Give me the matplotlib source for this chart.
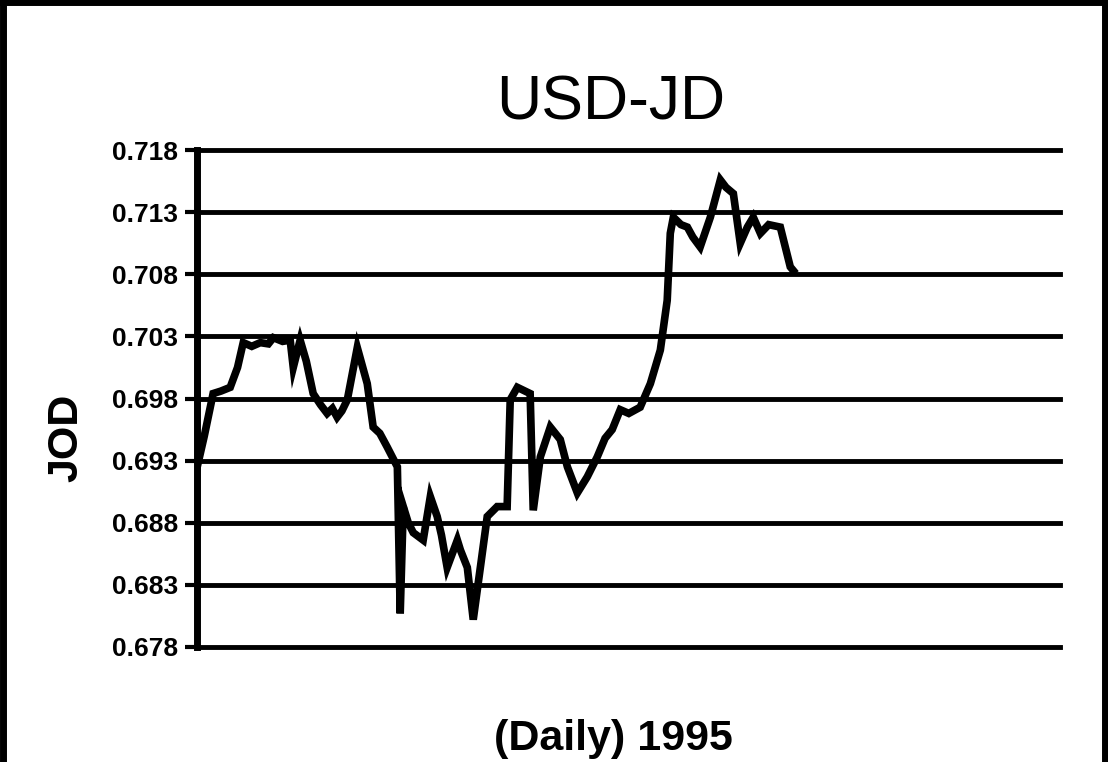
import numpy as np
import matplotlib.pyplot as plt
from matplotlib.lines import Line2D

plt.rcParams['font.family'] = ['Liberation Sans', 'DejaVu Sans']

# day of year and USD-JD rate
dias = [1, 4, 7.7, 11, 14.9, 18, 20.4, 24, 27.6, 31, 33.1, 37, 40.2, 41.5, 44.4,
        47, 49.9, 53, 55.8, 58, 60.0, 62, 64.3, 68.5, 72.7, 75.2, 78, 81.1, 85.4,
        86.6, 87.9, 90, 92.1, 96.3, 99.3, 102.2, 104, 106.4, 110.7, 112, 114.9,
        117.4, 120.4, 123.3, 127.5, 131.7, 133.0, 136.0, 141.4, 142.7, 145.7,
        149.9, 154.1, 157.1, 161.3, 165.5, 169.7, 173, 176, 179.4, 183, 187.8,
        192.1, 196.3, 199.2, 200.5, 201.8, 205, 207.7, 210, 213.1, 217.4, 221.6,
        224, 227.1, 230.0, 233, 235.5, 238.5, 242, 246.9, 251.1, 252.4]
tasa = [0.6925, 0.6950, 0.6984, 0.6986, 0.6989, 0.7005, 0.7025, 0.7022, 0.7025,
        0.7024, 0.7029, 0.7026, 0.7027, 0.7005, 0.7027, 0.7010, 0.6984, 0.6975,
        0.6968, 0.6972, 0.6965, 0.6970, 0.6979, 0.7021, 0.6992, 0.6957, 0.6952,
        0.6941, 0.6925, 0.6807, 0.6893, 0.6880, 0.6872, 0.6866, 0.6901, 0.6885,
        0.6870, 0.6844, 0.6866, 0.6858, 0.6844, 0.6802, 0.6844, 0.6885, 0.6893,
        0.6893, 0.6979, 0.6989, 0.6984, 0.6890, 0.6933, 0.6957, 0.6947, 0.6925,
        0.6904, 0.6917, 0.6933, 0.6948, 0.6955, 0.6971, 0.6968, 0.6973, 0.6992,
        0.7019, 0.7059, 0.7113, 0.7126, 0.7120, 0.7118, 0.7110, 0.7102, 0.7126,
        0.7156, 0.7150, 0.7145, 0.7105, 0.7118, 0.7126, 0.7113, 0.7120, 0.7118,
        0.7086, 0.7083]

ticks_y = [0.678, 0.683, 0.688, 0.693, 0.698, 0.703, 0.708, 0.713, 0.718]
etiquetas_y = ['0.678', '0.683', '0.688', '0.693', '0.698', '0.703', '0.708',
               '0.713', '0.718']

fig = plt.figure(figsize=(11.08, 7.62), dpi=100)
ax = fig.add_axes([0.178, 0.151, 0.779, 0.652])

ax.plot(dias, tasa, color='black', lw=5.5, solid_joinstyle='miter', zorder=3)

ax.set_xlim(1, 365)
ax.set_ylim(0.678, 0.718)
ax.set_yticks(ticks_y)
ax.set_yticklabels(etiquetas_y, fontsize=19, fontweight='bold')
ax.set_xticks([])
ax.tick_params(axis='y', length=9, width=3, direction='out', pad=5)
ax.grid(axis='y', color='black', lw=3.5)
for g in ax.get_ygridlines():
    g.set_clip_on(False)
for lado in ['top', 'right', 'bottom']:
    ax.spines[lado].set_visible(False)
ax.spines['left'].set_linewidth(5)

ax.set_title('USD-JD', fontsize=45, x=0.479, pad=22)
ax.set_ylabel('JOD', fontsize=31, fontweight='bold')
ax.yaxis.set_label_coords(-0.128, 0.42)
ax.set_xlabel('(Daily) 1995', fontsize=31, fontweight='bold')
ax.xaxis.set_label_coords(0.482, -0.145)

# marco de la figura
for xs, ys in [([0.003, 0.003], [0, 1]), ([0, 1], [0.998, 0.998]),
               ([0.997, 0.997], [0, 1])]:
    fig.add_artist(Line2D(xs, ys, color='black', lw=5, transform=fig.transFigure))

fig.savefig('out.png', dpi=100)
